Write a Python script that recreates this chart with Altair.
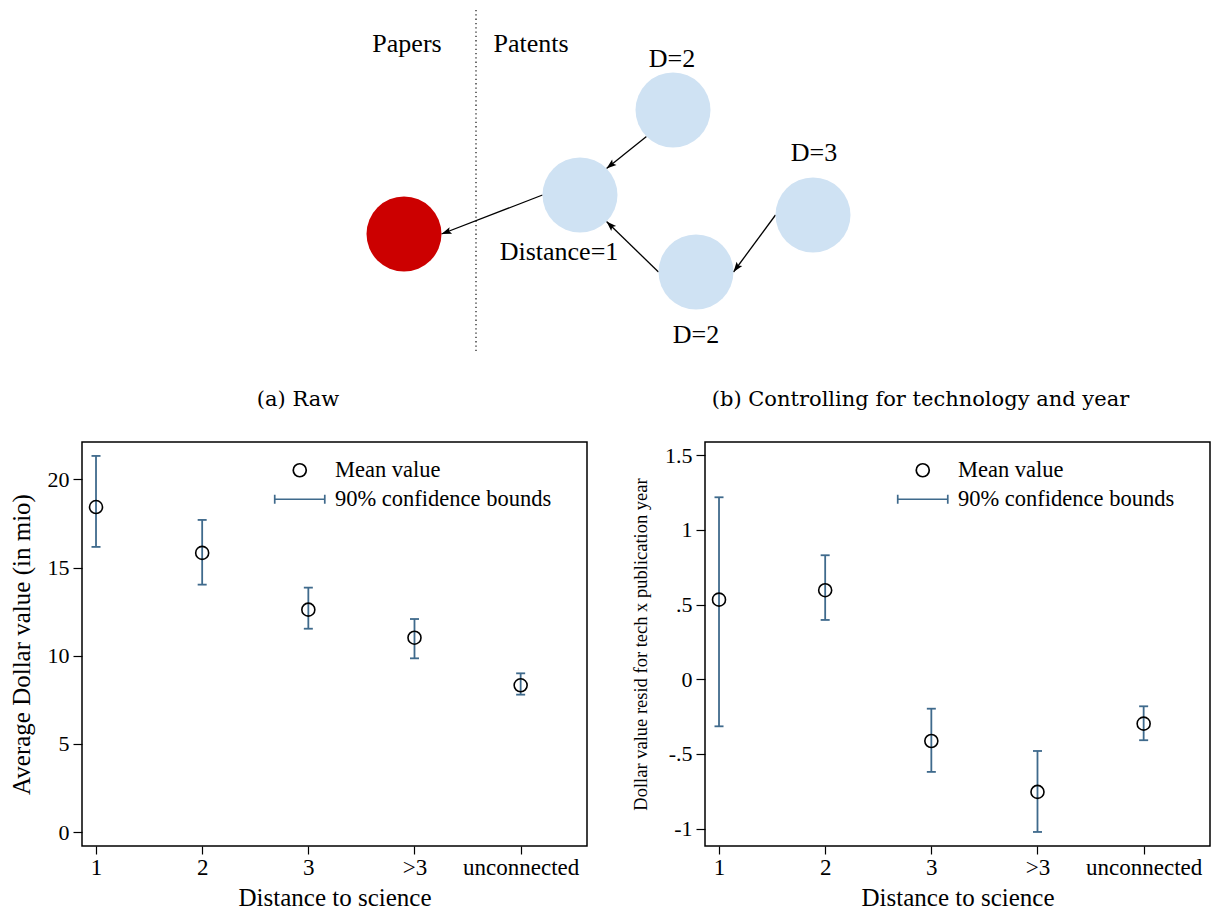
import json
import math
import altair as alt
import pandas as pd

# ---------------- data ----------------
categories = ["1", "2", "3", ">3", "unconnected"]

# (a) Raw: average dollar value (in mio)
raw_mean = [18.43, 15.83, 12.61, 11.02, 8.32]
raw_lo = [16.17, 14.03, 11.53, 9.85, 7.79]
raw_hi = [21.33, 17.70, 13.86, 12.08, 9.00]

# (b) Controlling for technology and year
res_mean = [0.533, 0.596, -0.413, -0.754, -0.297]
res_lo = [-0.315, 0.397, -0.620, -1.022, -0.408]
res_hi = [1.218, 0.830, -0.197, -0.480, -0.181]

legend_labels = ["Mean value", "90% confidence bounds"]
raw_ticks = [0, 5, 10, 15, 20]
res_ticks = [-1, -0.5, 0, 0.5, 1, 1.5]

# diagram (citation network)
node_names = ["paper", "dist1", "d2_top", "d2_bottom", "d3"]
node_group = ["Papers", "Patents", "Patents", "Patents", "Patents"]
node_x = [405, 581, 674, 697, 814]
node_y = [232, 193, 108, 270, 213]

arrow_from = ["dist1", "d2_top", "d2_bottom", "d3"]
arrow_from_anchor = [180, 135, 180, 180]
arrow_to = ["paper", "dist1", "dist1", "d2_bottom"]
arrow_to_anchor = [0, 315, 45, 0]

diagram_text = ["Papers", "Patents", "D=2", "D=3", "Distance=1", "D=2"]
diagram_text_x = [408, 532, 673, 815, 560, 697]
diagram_text_y = [50, 50, 65, 159, 258, 341]

divider_x = [477]
divider_top = [8]
divider_bottom = [350]

# ---------------- styles ----------------
FONT = "Liberation Serif"
BLUE = "#3f6a8c"
RED = "#cc0000"
LIGHT = "#cfe2f3"
NODE_R = 37.5
X_DOMAIN = [0.868, 5.625]
PW, PH = 505, 404
ERR_PATH = "M-3.85,0L3.85,0M-3.85,-0.69L-3.85,0.69M3.85,-0.69L3.85,0.69"
ARROW_PATH = "M0,0L-0.7,2L0,1.6L0.7,2Z"


def y_label_expr():
    return "replace(toString(datum.value), '0.', '.')"


def make_panel(mean, lo, hi, y_ticks, y_domain, y_title, y_title_size,
               caption, y_extent, y_title_pad, leg_x, leg_y):
    df = pd.DataFrame({
        "pos": [i + 1 for i, _ in enumerate(categories)],
        "mean": mean, "lo": lo, "hi": hi,
        "kind": [legend_labels[0]] * len(categories),
    })
    x_axis = alt.Axis(
        values=[i + 1 for i, _ in enumerate(categories)],
        labelExpr=f"{json.dumps(categories)}[datum.value - 1]",
        title="Distance to science", titleFont=FONT, titleFontSize=25,
        titleFontWeight="normal", titleColor="black", titlePadding=6.5,
        labelFont=FONT, labelFontSize=23, labelColor="black", labelPadding=2,
        tickSize=8, tickColor="black", tickWidth=1.2, domain=False, grid=False,
    )
    y_axis = alt.Axis(
        values=y_ticks, labelExpr=y_label_expr(),
        title=y_title, titleFont=FONT, titleFontSize=y_title_size,
        titleFontWeight="normal", titleColor="black", titlePadding=y_title_pad,
        labelFont=FONT, labelFontSize=22, labelColor="black", labelPadding=4,
        tickSize=9, tickColor="black", tickWidth=1.2, domain=False, grid=False,
        minExtent=y_extent, maxExtent=y_extent,
    )
    xs = alt.Scale(domain=X_DOMAIN, nice=False, zero=False)
    ys = alt.Scale(domain=y_domain, nice=False, zero=False)
    x = alt.X("pos:Q", scale=xs, axis=x_axis)

    base = alt.Chart(df)
    bars = base.mark_rule(color=BLUE, strokeWidth=1.8).encode(
        x=x, y=alt.Y("lo:Q", scale=ys, axis=y_axis), y2="hi:Q")
    cap_lo = base.mark_tick(color=BLUE, orient="horizontal", size=9,
                            thickness=1.8, opacity=1).encode(
        x=x, y=alt.Y("lo:Q", scale=ys, axis=y_axis))
    cap_hi = base.mark_tick(color=BLUE, orient="horizontal", size=9,
                            thickness=1.8, opacity=1).encode(
        x=x, y=alt.Y("hi:Q", scale=ys, axis=y_axis))
    leg = alt.Legend(
        title=None, orient="none", legendX=leg_x, legendY=leg_y,
        labelFont=FONT, labelFontSize=22.5, labelColor="black", labelLimit=500,
        symbolSize=169, symbolStrokeWidth=1.7, symbolOpacity=1,
        labelOffset=24, rowPadding=6, padding=0,
    )
    pts = base.mark_point(filled=False, size=169, strokeWidth=1.6,
                          opacity=1).encode(
        x=x, y=alt.Y("mean:Q", scale=ys, axis=y_axis),
        color=alt.Color("kind:N", scale=alt.Scale(domain=legend_labels,
                                                   range=["black", BLUE]),
                        legend=leg),
        shape=alt.Shape("kind:N", scale=alt.Scale(domain=legend_labels,
                                                   range=["circle", ERR_PATH]),
                        legend=leg),
    )
    return alt.layer(bars, cap_lo, cap_hi, pts).properties(
        width=PW, height=PH,
        title=alt.TitleParams(text=caption, font="DejaVu Serif", fontSize=21,
                              fontWeight="normal", color="black",
                              anchor="middle", frame="bounds", offset=32),
    )


left = make_panel(raw_mean, raw_lo, raw_hi, raw_ticks, [-0.794, 22.12],
                  "Average Dollar value (in mio)", 25, "(a) Raw",
                  38, 10, 206.5, 17)
right = make_panel(res_mean, res_lo, res_hi, res_ticks, [-1.116, 1.588],
                   "Dollar value resid for tech x publication year", 18.5,
                   "(b) Controlling for technology and year",
                   41, 14, 206.5, 17)

row = alt.hconcat(left, right, spacing=118, bounds="flush").resolve_scale(
    color="independent", shape="independent").resolve_legend(
    color="independent", shape="independent")

# ---------------- diagram ----------------
nodes = pd.DataFrame({"name": node_names, "group": node_group,
                      "x": node_x, "y": node_y})
pos = {n: (nx, ny) for n, nx, ny in zip(node_names, node_x, node_y)}
arrows = []
for f, fa, t, ta in zip(arrow_from, arrow_from_anchor, arrow_to, arrow_to_anchor):
    fx = pos[f][0] + NODE_R * math.cos(math.radians(fa))
    fy = pos[f][1] + NODE_R * math.sin(math.radians(fa))
    tx = pos[t][0] + NODE_R * math.cos(math.radians(ta))
    ty = pos[t][1] + NODE_R * math.sin(math.radians(ta))
    heading = math.degrees(math.atan2(tx - fx, -(ty - fy))) % 360
    arrows.append({"fx": fx, "fy": fy, "tx": tx, "ty": ty, "heading": heading})
arrows = pd.DataFrame(arrows)
labels = pd.DataFrame({"text": diagram_text, "x": diagram_text_x,
                       "y": diagram_text_y})
divider = pd.DataFrame({"x": divider_x, "y": divider_top, "y2": divider_bottom})

dxs = alt.Scale(domain=[83, 83 + 1128], nice=False, zero=False)
dys = alt.Scale(domain=[8, 360], nice=False, zero=False, reverse=True)

circles = alt.Chart(nodes).mark_circle(size=(2 * NODE_R) ** 2, opacity=1).encode(
    x=alt.X("x:Q", scale=dxs, axis=None),
    y=alt.Y("y:Q", scale=dys, axis=None),
    color=alt.Color("group:N", scale=alt.Scale(domain=["Papers", "Patents"],
                                               range=[RED, LIGHT]), legend=None),
)
lines = alt.Chart(arrows).mark_rule(color="black", strokeWidth=1.3).encode(
    x=alt.X("fx:Q", scale=dxs, axis=None), y=alt.Y("fy:Q", scale=dys, axis=None),
    x2="tx:Q", y2="ty:Q")
heads = alt.Chart(arrows).mark_point(shape=ARROW_PATH, filled=True, size=100,
                                     color="black", opacity=1).encode(
    x=alt.X("tx:Q", scale=dxs, axis=None), y=alt.Y("ty:Q", scale=dys, axis=None),
    angle=alt.Angle("heading:Q", scale=None))
texts = alt.Chart(labels).mark_text(font=FONT, fontSize=26, align="center",
                                    baseline="alphabetic", color="black").encode(
    x=alt.X("x:Q", scale=dxs, axis=None), y=alt.Y("y:Q", scale=dys, axis=None),
    text="text:N")
div = alt.Chart(divider).mark_rule(color="#222222", strokeWidth=1.3,
                                   strokeDash=[1.3, 3]).encode(
    x=alt.X("x:Q", scale=dxs, axis=None), y=alt.Y("y:Q", scale=dys, axis=None),
    y2="y2:Q")

diagram = alt.layer(div, lines, circles, heads, texts).properties(
    width=1128, height=352, view=alt.ViewBackground(stroke="transparent"))

chart = alt.vconcat(diagram, row, spacing=80, bounds="flush").properties(
    padding=0, background="white"
).configure_view(stroke="black", strokeWidth=1.5)

chart.save("out.html", embed_options={"renderer": "svg", "actions": False})
